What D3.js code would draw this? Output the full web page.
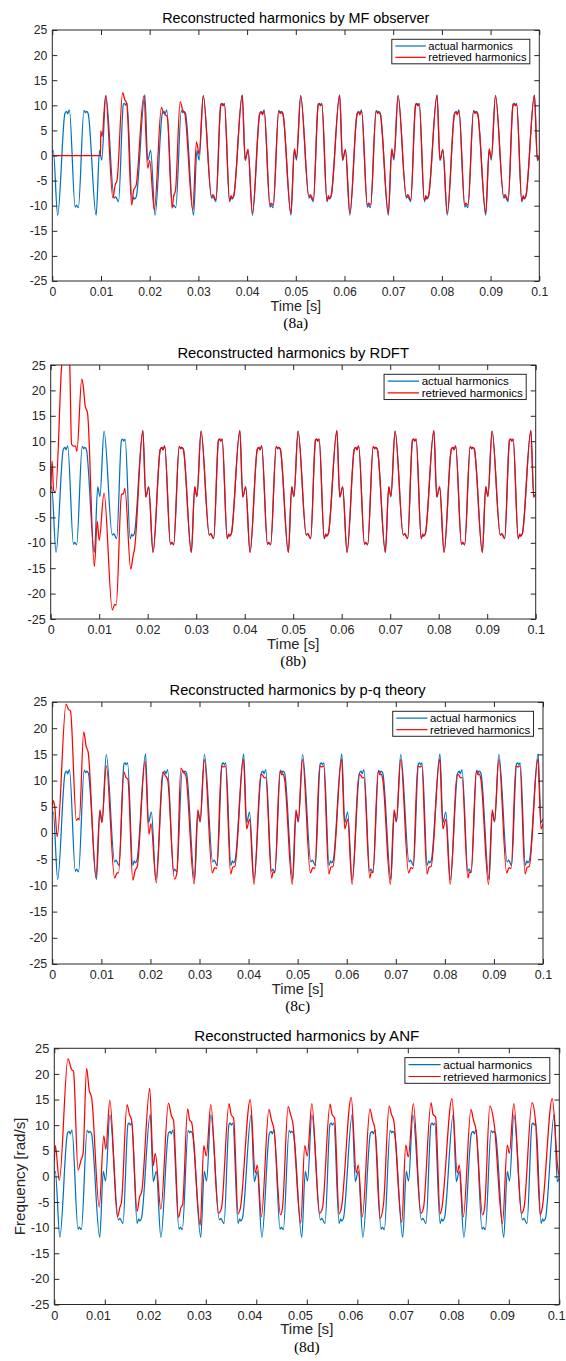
<!DOCTYPE html>
<html>
<head>
<meta charset="utf-8">
<script src="https://cdn.jsdelivr.net/npm/d3@7"></script>
<style>
  body { margin: 0; background: #fff; }
  svg { display: block; }
</style>
</head>
<body>
<svg width="566" height="1361"></svg>
<script>
(function (d3) {
    'use strict';

    // ticks (time kept in ms in the data, labelled in seconds)
    const xTickVals = [0, 10, 20, 30, 40, 50, 60, 70, 80, 90, 100];
    const xTickLabels = ['0', '0.01', '0.02', '0.03', '0.04', '0.05', '0.06', '0.07', '0.08', '0.09', '0.1'];
    const yTickVals = [-25, -20, -15, -10, -5, 0, 5, 10, 15, 20, 25];
    const yTickLabels = ['-25', '-20', '-15', '-10', '-5', '0', '5', '10', '15', '20', '25'];

    const titles = [
        'Reconstructed harmonics by MF observer',
        'Reconstructed harmonics by RDFT',
        'Reconstructed harmonics by p-q theory',
        'Reconstructed harmonics by ANF'
    ];
    const captions = ['(8a)', '(8b)', '(8c)', '(8d)'];
    const legendLabels = ['actual harmonics', 'retrieved harmonics'];

    // actual harmonics (panels a, b, d) : [time ms, value]
    const actualHarm = [
        [0,0.6],[0.2,1.0],[1.1,-11.9],[2.6,8.4],[2.95,8.8],[3.15,8.3],[3.5,9.1],[4.7,-10.3],[4.95,-9.9],[5.35,-10.4],[6.5,9.0],[6.8,8.5],[7.0,8.8],[7.35,8.4],[9.0,-11.9],[9.7,1.0],[10.15,-0.9],[11.0,12.0],[12.7,-8.5],[13.0,-8.2],[13.25,-8.6],[13.6,-9.2],[14.6,10.2],[14.85,10.4],[15.05,10.0],[15.35,10.4],[16.4,-9.2],[16.7,-8.3],[16.9,-8.7],[17.25,-8.2],[19.0,12.1],[19.6,-1.0],
        [20.2,1.0],[21.1,-11.9],[22.6,8.4],[22.95,8.8],[23.15,8.3],[23.5,9.1],[24.7,-10.3],[24.95,-9.9],[25.35,-10.4],[26.5,9.0],[26.8,8.5],[27.0,8.8],[27.35,8.4],[29.0,-11.9],[29.7,1.0],[30.15,-0.9],[31.0,12.0],[32.7,-8.5],[33.0,-8.2],[33.25,-8.6],[33.6,-9.2],[34.6,10.2],[34.85,10.4],[35.05,10.0],[35.35,10.4],[36.4,-9.2],[36.7,-8.3],[36.9,-8.7],[37.25,-8.2],[39.0,12.1],[39.6,-1.0],
        [40.2,1.0],[41.1,-11.9],[42.6,8.4],[42.95,8.8],[43.15,8.3],[43.5,9.1],[44.7,-10.3],[44.95,-9.9],[45.35,-10.4],[46.5,9.0],[46.8,8.5],[47.0,8.8],[47.35,8.4],[49.0,-11.9],[49.7,1.0],[50.15,-0.9],[51.0,12.0],[52.7,-8.5],[53.0,-8.2],[53.25,-8.6],[53.6,-9.2],[54.6,10.2],[54.85,10.4],[55.05,10.0],[55.35,10.4],[56.4,-9.2],[56.7,-8.3],[56.9,-8.7],[57.25,-8.2],[59.0,12.1],[59.6,-1.0],
        [60.2,1.0],[61.1,-11.9],[62.6,8.4],[62.95,8.8],[63.15,8.3],[63.5,9.1],[64.7,-10.3],[64.95,-9.9],[65.35,-10.4],[66.5,9.0],[66.8,8.5],[67.0,8.8],[67.35,8.4],[69.0,-11.9],[69.7,1.0],[70.15,-0.9],[71.0,12.0],[72.7,-8.5],[73.0,-8.2],[73.25,-8.6],[73.6,-9.2],[74.6,10.2],[74.85,10.4],[75.05,10.0],[75.35,10.4],[76.4,-9.2],[76.7,-8.3],[76.9,-8.7],[77.25,-8.2],[79.0,12.1],[79.6,-1.0],
        [80.2,1.0],[81.1,-11.9],[82.6,8.4],[82.95,8.8],[83.15,8.3],[83.5,9.1],[84.7,-10.3],[84.95,-9.9],[85.35,-10.4],[86.5,9.0],[86.8,8.5],[87.0,8.8],[87.35,8.4],[89.0,-11.9],[89.7,1.0],[90.15,-0.9],[91.0,12.0],[92.7,-8.5],[93.0,-8.2],[93.25,-8.6],[93.6,-9.2],[94.6,10.2],[94.85,10.4],[95.05,10.0],[95.35,10.4],[96.4,-9.2],[96.7,-8.3],[96.9,-8.7],[97.25,-8.2],[99.0,12.1],[99.6,-1.0],[100,-0.3]
    ];

    // actual harmonics as used by the p-q panel (shifted up)
    const actualPQ = [
        [0,3.6],[0.2,4.0],[1.1,-8.9],[2.6,11.4],[2.95,11.8],[3.15,11.3],[3.5,12.1],[4.7,-7.3],[4.95,-6.9],[5.35,-7.4],[6.5,12.0],[6.8,11.5],[7.0,11.8],[7.35,11.4],[9.0,-8.9],[9.7,4.0],[10.15,2.1],[11.0,15.0],[12.7,-5.5],[13.0,-5.2],[13.25,-5.6],[13.6,-6.2],[14.6,13.2],[14.85,13.4],[15.05,13.0],[15.35,13.4],[16.4,-6.2],[16.7,-5.3],[16.9,-5.7],[17.25,-5.2],[19.0,15.1],[19.6,2.0],
        [20.2,4.0],[21.1,-8.9],[22.6,11.4],[22.95,11.8],[23.15,11.3],[23.5,12.1],[24.7,-7.3],[24.95,-6.9],[25.35,-7.4],[26.5,12.0],[26.8,11.5],[27.0,11.8],[27.35,11.4],[29.0,-8.9],[29.7,4.0],[30.15,2.1],[31.0,15.0],[32.7,-5.5],[33.0,-5.2],[33.25,-5.6],[33.6,-6.2],[34.6,13.2],[34.85,13.4],[35.05,13.0],[35.35,13.4],[36.4,-6.2],[36.7,-5.3],[36.9,-5.7],[37.25,-5.2],[39.0,15.1],[39.6,2.0],
        [40.2,4.0],[41.1,-8.9],[42.6,11.4],[42.95,11.8],[43.15,11.3],[43.5,12.1],[44.7,-7.3],[44.95,-6.9],[45.35,-7.4],[46.5,12.0],[46.8,11.5],[47.0,11.8],[47.35,11.4],[49.0,-8.9],[49.7,4.0],[50.15,2.1],[51.0,15.0],[52.7,-5.5],[53.0,-5.2],[53.25,-5.6],[53.6,-6.2],[54.6,13.2],[54.85,13.4],[55.05,13.0],[55.35,13.4],[56.4,-6.2],[56.7,-5.3],[56.9,-5.7],[57.25,-5.2],[59.0,15.1],[59.6,2.0],
        [60.2,4.0],[61.1,-8.9],[62.6,11.4],[62.95,11.8],[63.15,11.3],[63.5,12.1],[64.7,-7.3],[64.95,-6.9],[65.35,-7.4],[66.5,12.0],[66.8,11.5],[67.0,11.8],[67.35,11.4],[69.0,-8.9],[69.7,4.0],[70.15,2.1],[71.0,15.0],[72.7,-5.5],[73.0,-5.2],[73.25,-5.6],[73.6,-6.2],[74.6,13.2],[74.85,13.4],[75.05,13.0],[75.35,13.4],[76.4,-6.2],[76.7,-5.3],[76.9,-5.7],[77.25,-5.2],[79.0,15.1],[79.6,2.0],
        [80.2,4.0],[81.1,-8.9],[82.6,11.4],[82.95,11.8],[83.15,11.3],[83.5,12.1],[84.7,-7.3],[84.95,-6.9],[85.35,-7.4],[86.5,12.0],[86.8,11.5],[87.0,11.8],[87.35,11.4],[89.0,-8.9],[89.7,4.0],[90.15,2.1],[91.0,15.0],[92.7,-5.5],[93.0,-5.2],[93.25,-5.6],[93.6,-6.2],[94.6,13.2],[94.85,13.4],[95.05,13.0],[95.35,13.4],[96.4,-6.2],[96.7,-5.3],[96.9,-5.7],[97.25,-5.2],[99.0,15.1],[99.6,2.0],[100,2.7]
    ];

    // retrieved harmonics, MF observer
    const retrievedMF = [
        [0,0],[9.9,0],[9.95,4.9],[10.2,3.8],[10.95,11.9],[12.45,-8.5],[12.9,-5.9],[13.3,-4.9],[14.45,12.5],[14.85,11.2],[15.3,10.3],[16.3,-9.9],[16.7,-6.9],[17.2,-6.0],[18.8,11.9],[19.6,-2.5],
        [20.0,-1.0],[20.95,-10.9],[22.4,9.6],[22.8,8.6],[23.3,8.0],[23.6,7.8],[24.6,-10.5],[24.9,-8.2],[25.3,-6.9],[26.25,10.7],[26.8,9.0],[27.2,8.4],[28.85,-10.9],[29.6,2.7],[30.15,0.3],[31.0,11.9],[32.7,-8.2],[33.0,-7.8],[33.25,-8.2],[33.6,-8.9],[34.6,10.0],[34.85,10.3],[35.05,9.9],[35.35,10.2],[36.4,-9.0],[36.7,-8.0],[36.9,-8.5],[37.25,-8.0],[39.0,12.0],[39.6,-0.8],
        [40.2,1.2],[41.1,-11.5],[42.6,8.3],[42.95,8.6],[43.15,8.1],[43.5,8.9],[44.7,-9.9],[44.95,-9.5],[45.35,-9.9],[46.5,8.9],[46.8,8.4],[47.0,8.6],[47.35,8.2],[49.0,-11.5],[49.7,1.3],[50.15,-0.5],[51.0,11.9],[52.7,-8.2],[53.0,-7.8],[53.25,-8.2],[53.6,-8.9],[54.6,10.0],[54.85,10.3],[55.05,9.9],[55.35,10.2],[56.4,-9.0],[56.7,-8.0],[56.9,-8.5],[57.25,-8.0],[59.0,12.0],[59.6,-0.8],
        [60.2,1.2],[61.1,-11.5],[62.6,8.3],[62.95,8.6],[63.15,8.1],[63.5,8.9],[64.7,-9.9],[64.95,-9.5],[65.35,-9.9],[66.5,8.9],[66.8,8.4],[67.0,8.6],[67.35,8.2],[69.0,-11.5],[69.7,1.3],[70.15,-0.5],[71.0,11.9],[72.7,-8.2],[73.0,-7.8],[73.25,-8.2],[73.6,-8.9],[74.6,10.0],[74.85,10.3],[75.05,9.9],[75.35,10.2],[76.4,-9.0],[76.7,-8.0],[76.9,-8.5],[77.25,-8.0],[79.0,12.0],[79.6,-0.8],
        [80.2,1.2],[81.1,-11.5],[82.6,8.3],[82.95,8.6],[83.15,8.1],[83.5,8.9],[84.7,-9.9],[84.95,-9.5],[85.35,-9.9],[86.5,8.9],[86.8,8.4],[87.0,8.6],[87.35,8.2],[89.0,-11.5],[89.7,1.3],[90.15,-0.5],[91.0,11.9],[92.7,-8.2],[93.0,-7.8],[93.25,-8.2],[93.6,-8.9],[94.6,10.0],[94.85,10.3],[95.05,9.9],[95.35,10.2],[96.4,-9.0],[96.7,-8.0],[96.9,-8.5],[97.25,-8.0],[99.0,12.0],[99.6,-0.8],[100,-0.2]
    ];

    // retrieved harmonics, RDFT
    const retrievedRDFT = [
        [0,0],[0.3,6.1],[0.6,0.3],[1.0,0.0],[2.3,25.5],[3.1,30],[3.9,25.5],[4.3,9.4],[4.8,9.0],[5.1,9.1],[5.4,8.0],[6.4,22.2],[6.7,21.0],[7.1,17.0],[7.6,15.5],[9.0,-14.7],[9.6,-5.8],[10.0,-9.5],[11.0,-0.2],[12.7,-23.2],[13.2,-22.1],[13.5,-22.3],[14.6,-0.5],[15.0,-0.3],[15.3,0.7],[16.5,-15.2],[17.0,-12.5],[17.3,-11.1],[19.0,12.1],[19.6,-1.0],
        [20.2,1.0],[21.1,-11.9],[22.6,8.4],[22.95,8.8],[23.15,8.3],[23.5,9.1],[24.7,-10.3],[24.95,-9.9],[25.35,-10.4],[26.5,9.0],[26.8,8.5],[27.0,8.8],[27.35,8.4],[29.0,-11.9],[29.7,1.0],[30.15,-0.9],[31.0,12.0],[32.7,-8.5],[33.0,-8.2],[33.25,-8.6],[33.6,-9.2],[34.6,10.2],[34.85,10.4],[35.05,10.0],[35.35,10.4],[36.4,-9.2],[36.7,-8.3],[36.9,-8.7],[37.25,-8.2],[39.0,12.1],[39.6,-1.0],
        [40.2,1.0],[41.1,-11.9],[42.6,8.4],[42.95,8.8],[43.15,8.3],[43.5,9.1],[44.7,-10.3],[44.95,-9.9],[45.35,-10.4],[46.5,9.0],[46.8,8.5],[47.0,8.8],[47.35,8.4],[49.0,-11.9],[49.7,1.0],[50.15,-0.9],[51.0,12.0],[52.7,-8.5],[53.0,-8.2],[53.25,-8.6],[53.6,-9.2],[54.6,10.2],[54.85,10.4],[55.05,10.0],[55.35,10.4],[56.4,-9.2],[56.7,-8.3],[56.9,-8.7],[57.25,-8.2],[59.0,12.1],[59.6,-1.0],
        [60.2,1.0],[61.1,-11.9],[62.6,8.4],[62.95,8.8],[63.15,8.3],[63.5,9.1],[64.7,-10.3],[64.95,-9.9],[65.35,-10.4],[66.5,9.0],[66.8,8.5],[67.0,8.8],[67.35,8.4],[69.0,-11.9],[69.7,1.0],[70.15,-0.9],[71.0,12.0],[72.7,-8.5],[73.0,-8.2],[73.25,-8.6],[73.6,-9.2],[74.6,10.2],[74.85,10.4],[75.05,10.0],[75.35,10.4],[76.4,-9.2],[76.7,-8.3],[76.9,-8.7],[77.25,-8.2],[79.0,12.1],[79.6,-1.0],
        [80.2,1.0],[81.1,-11.9],[82.6,8.4],[82.95,8.8],[83.15,8.3],[83.5,9.1],[84.7,-10.3],[84.95,-9.9],[85.35,-10.4],[86.5,9.0],[86.8,8.5],[87.0,8.8],[87.35,8.4],[89.0,-11.9],[89.7,1.0],[90.15,-0.9],[91.0,12.0],[92.7,-8.5],[93.0,-8.2],[93.25,-8.6],[93.6,-9.2],[94.6,10.2],[94.85,10.4],[95.05,10.0],[95.35,10.4],[96.4,-9.2],[96.7,-8.3],[96.9,-8.7],[97.25,-8.2],[99.0,12.1],[99.6,-1.0],[100,-0.3]
    ];

    // retrieved harmonics, p-q theory
    const retrievedPQ = [
        [0,5.0],[0.2,6.2],[0.5,5.0],[1.0,-0.7],[2.8,24.6],[3.3,23.6],[3.7,23.3],[4.9,2.4],[5.3,2.8],[5.5,2.5],[6.4,19.3],[6.9,16.5],[7.3,15.5],[8.9,-8.5],[9.7,4.4],[10.1,2.0],[11.0,12.8],[12.7,-8.6],[13.2,-7.6],[13.5,-7.6],[14.6,11.6],[15.0,10.6],[15.4,10.3],[16.4,-9.0],[16.9,-7.1],[17.3,-6.5],[18.9,13.7],[19.7,-0.2],
        [20.1,1.8],[21.2,-9.5],[22.5,11.6],[23.0,11.0],[23.5,10.2],[24.9,-8.8],[25.4,-7.6],[26.2,12.4],[26.7,11.6],[27.2,11.0],[28.9,-9.7],[29.65,4.4],[30.1,2.2],[31.0,14.0],[32.6,-7.6],[33.1,-6.6],[33.5,-6.8],[34.5,12.8],[34.9,12.6],[35.3,12.8],[36.35,-7.8],[36.8,-6.5],[37.2,-6.4],[38.95,14.1],[39.6,0.8],
        [40.2,2.6],[41.1,-9.8],[42.5,11.2],[42.9,11.0],[43.2,10.5],[43.5,10.6],[44.7,-8.6],[45.0,-7.4],[45.35,-7.6],[46.4,11.8],[46.8,11.1],[47.0,11.3],[47.35,10.2],[48.9,-9.8],[49.65,4.4],[50.1,2.2],[51.0,14.0],[52.6,-7.6],[53.1,-6.6],[53.5,-6.8],[54.5,12.8],[54.9,12.6],[55.3,12.8],[56.35,-7.8],[56.8,-6.5],[57.2,-6.4],[58.95,14.1],[59.6,0.8],
        [60.2,2.6],[61.1,-9.8],[62.5,11.2],[62.9,11.0],[63.2,10.5],[63.5,10.6],[64.7,-8.6],[65.0,-7.4],[65.35,-7.6],[66.4,11.8],[66.8,11.1],[67.0,11.3],[67.35,10.2],[68.9,-9.8],[69.65,4.4],[70.1,2.2],[71.0,14.0],[72.6,-7.6],[73.1,-6.6],[73.5,-6.8],[74.5,12.8],[74.9,12.6],[75.3,12.8],[76.35,-7.8],[76.8,-6.5],[77.2,-6.4],[78.95,14.1],[79.6,0.8],
        [80.2,2.6],[81.1,-9.8],[82.5,11.2],[82.9,11.0],[83.2,10.5],[83.5,10.6],[84.7,-8.6],[85.0,-7.4],[85.35,-7.6],[86.4,11.8],[86.8,11.1],[87.0,11.3],[87.35,10.2],[88.9,-9.8],[89.65,4.4],[90.1,2.2],[91.0,14.0],[92.6,-7.6],[93.1,-6.6],[93.5,-6.8],[94.5,12.8],[94.9,12.6],[95.3,12.8],[96.35,-7.8],[96.8,-6.5],[97.2,-6.4],[98.95,14.1],[99.6,0.8],[100,1.8]
    ];

    // retrieved harmonics, ANF
    const retrievedANF = [
        [0,2.9],[0.2,6.0],[1.0,-0.8],[2.7,23.0],[3.4,20.9],[3.8,20.5],[4.7,1.2],[5.3,3.2],[5.7,4.5],[6.4,21.1],[6.9,16.9],[7.4,15.3],[8.9,-6.0],[9.8,7.9],[10.2,5.3],[11.0,14.9],[12.5,-7.9],[13.0,-6.0],[13.3,-5.0],[14.4,14.0],[14.9,12.0],[15.3,11.0],[16.4,-6.8],[16.9,-4.0],[17.3,-3.0],[18.9,17.2],[19.6,2.1],
        [20.0,4.5],[21.1,-6.4],[22.6,14.3],[23.2,11.8],[23.6,11.0],[24.6,-8.0],[25.1,-6.0],[25.4,-5.5],[26.4,13.2],[26.8,11.0],[27.2,10.5],[28.9,-9.5],[29.6,6.0],[30.1,4.0],[31.0,14.0],[32.5,-7.2],[33.1,-6.2],[34.6,14.2],[35.0,12.1],[35.5,11.4],[36.4,-7.3],[36.8,-6.4],[38.8,15.0],[39.8,0.7],
        [40.2,2.2],[41.0,-7.9],[42.5,13.1],[43.0,11.0],[43.5,9.2],[44.8,-7.5],[45.2,-6.0],[46.3,13.6],[46.8,12.0],[47.2,10.6],[48.8,-9.1],[49.6,6.0],[50.1,4.0],[51.0,14.2],[52.5,-7.2],[53.1,-6.2],[54.6,14.1],[55.0,12.1],[55.5,11.4],[56.4,-7.3],[56.8,-6.4],[58.8,15.4],[59.8,0.7],
        [60.2,2.2],[61.0,-7.9],[62.5,13.2],[63.0,11.0],[63.5,9.2],[64.5,-8.2],[65.2,-5.3],[66.3,13.7],[66.8,12.0],[67.2,11.0],[68.8,-9.0],[69.6,6.1],[70.1,3.8],[71.1,14.2],[72.6,-7.2],[73.1,-6.2],[74.6,14.4],[75.0,12.1],[75.5,11.6],[76.4,-7.3],[76.7,-6.4],[78.75,15.2],[79.8,0.7],
        [80.2,2.2],[81.0,-7.9],[82.5,13.1],[83.0,11.0],[83.5,9.2],[84.8,-7.5],[85.2,-6.2],[86.25,13.7],[87.1,10.3],[88.75,-9.2],[89.7,6.1],[90.1,4.5],[91.0,14.2],[92.5,-7.2],[93.0,-6.2],[94.6,14.4],[95.3,10.6],[96.25,-7.5],[96.6,-6.3],[98.6,15.2],[99.75,1.2],[100,0.0]
    ];

    const panelSeries = [
        [actualHarm, retrievedMF],
        [actualHarm, retrievedRDFT],
        [actualPQ, retrievedPQ],
        [actualHarm, retrievedANF]
    ];

    // plot boxes of the four sub-figures (pixels)
    const frames = [
        { left: 52.3, right: 539.3, top: 30,     bottom: 281,    s: 1.0 },
        { left: 50.7, right: 535.7, top: 365,    bottom: 619,    s: 1.03 },
        { left: 52.3, right: 543,   top: 702,    bottom: 964,    s: 1.02 },
        { left: 54.3, right: 559.3, top: 1048.3, bottom: 1304.5, s: 1.05 }
    ];

    const colors = ['#0072bd', '#ff0000'];
    const axisColor = '#262626';
    const sans = '"Liberation Sans", Arial, Helvetica, sans-serif';
    const serif = '"Liberation Serif", "Times New Roman", serif';

    const svg = d3.select('svg');
    const svgWidth = +svg.attr('width');

    const render = (f, i) => {
        const x = d3.scaleLinear().domain([0, 100]).range([f.left, f.right]);
        const y = d3.scaleLinear().domain([-25, 25]).range([f.bottom, f.top]);
        const g = svg.append('g');
        const tickFs = 12.2 * f.s;
        const labelFs = 14.4 * f.s;

        // curves, clipped to the axes box
        const clipId = 'clip' + i;
        g.append('clipPath').attr('id', clipId)
            .append('rect')
            .attr('x', f.left).attr('y', f.top)
            .attr('width', f.right - f.left).attr('height', f.bottom - f.top);

        const line = d3.line()
            .x(d => x(d[0]))
            .y(d => y(d[1]))
            .curve(d3.curveMonotoneX);

        const lines = g.append('g').attr('clip-path', `url(#${clipId})`);
        panelSeries[i].forEach((series, k) => {
            lines.append('path')
                .datum(series)
                .attr('d', line)
                .attr('fill', 'none')
                .attr('stroke', colors[k])
                .attr('stroke-width', 1.25)
                .attr('stroke-linejoin', 'round');
        });

        // axes with inward ticks on all four sides
        const tick = 5;
        const bottomAxis = g.append('g')
            .attr('transform', `translate(0,${f.bottom})`)
            .call(d3.axisBottom(x).tickValues(xTickVals)
                .tickFormat((d, j) => xTickLabels[j])
                .tickSizeInner(-tick).tickSizeOuter(0).tickPadding(6));
        g.append('g')
            .attr('transform', `translate(0,${f.top})`)
            .call(d3.axisTop(x).tickValues(xTickVals).tickFormat('')
                .tickSizeInner(-tick).tickSizeOuter(0));
        const leftAxis = g.append('g')
            .attr('transform', `translate(${f.left},0)`)
            .call(d3.axisLeft(y).tickValues(yTickVals)
                .tickFormat((d, j) => yTickLabels[j])
                .tickSizeInner(-tick).tickSizeOuter(0).tickPadding(5));
        g.append('g')
            .attr('transform', `translate(${f.right},0)`)
            .call(d3.axisRight(y).tickValues(yTickVals).tickFormat('')
                .tickSizeInner(-tick).tickSizeOuter(0));

        g.selectAll('.domain').remove();
        g.selectAll('.tick line').attr('stroke', axisColor);
        [bottomAxis, leftAxis].forEach(a => a.selectAll('text')
            .attr('fill', axisColor)
            .style('font-family', sans)
            .style('font-size', tickFs + 'px'));

        // keep the last x label inside the page
        bottomAxis.selectAll('text').each(function () {
            const box = this.getBBox();
            const tx = x(xTickVals[xTickVals.length - 1]);
            if (tx + box.x + box.width > svgWidth - 1) {
                d3.select(this).attr('x', svgWidth - 1 - tx - box.width / 2 - box.x - box.width / 2 + box.width / 2 - box.width / 2);
            }
        });

        g.append('rect')
            .attr('x', f.left).attr('y', f.top)
            .attr('width', f.right - f.left).attr('height', f.bottom - f.top)
            .attr('fill', 'none')
            .attr('stroke', axisColor)
            .attr('stroke-width', 1);

        // legend (top right)
        const lgW = 138 * f.s, lgH = 24.5 * f.s;
        const lgX = f.right - 9.5 - lgW, lgY = f.top + 9.3;
        const lg = g.append('g').attr('transform', `translate(${lgX},${lgY})`);
        lg.append('rect')
            .attr('width', lgW).attr('height', lgH)
            .attr('fill', '#fff').attr('stroke', axisColor).attr('stroke-width', 1);
        legendLabels.forEach((lab, k) => {
            const ly = (6.7 + k * 11.3) * f.s;
            lg.append('line')
                .attr('x1', 3.5 * f.s).attr('x2', 34 * f.s)
                .attr('y1', ly).attr('y2', ly)
                .attr('stroke', colors[k]).attr('stroke-width', 1.2);
            lg.append('text')
                .attr('x', 36.5 * f.s).attr('y', ly)
                .attr('dy', '0.35em')
                .attr('fill', '#000')
                .style('font-family', sans)
                .style('font-size', (11.2 * f.s) + 'px')
                .text(lab);
        });

        const cx = (f.left + f.right) / 2;
        g.append('text')
            .attr('x', cx).attr('y', f.top - 7)
            .attr('text-anchor', 'middle')
            .attr('fill', '#000')
            .style('font-family', sans)
            .style('font-size', labelFs + 'px')
            .text(titles[i]);

        g.append('text')
            .attr('x', cx).attr('y', f.bottom + 29.5)
            .attr('text-anchor', 'middle')
            .attr('fill', axisColor)
            .style('font-family', sans)
            .style('font-size', labelFs + 'px')
            .text('Time [s]');

        g.append('text')
            .attr('x', cx).attr('y', f.bottom + 47)
            .attr('text-anchor', 'middle')
            .attr('fill', '#000')
            .style('font-family', serif)
            .style('font-size', '15.5px')
            .text(captions[i]);

        if (i === 3) {
            g.append('text')
                .attr('transform', `translate(20,${(f.top + f.bottom) / 2}) rotate(-90)`)
                .attr('text-anchor', 'middle')
                .attr('dy', '0.35em')
                .attr('fill', axisColor)
                .style('font-family', sans)
                .style('font-size', labelFs + 'px')
                .text('Frequency [rad/s]');
        }
    };

    frames.forEach(render);
}(d3));
</script>
</body>
</html>
